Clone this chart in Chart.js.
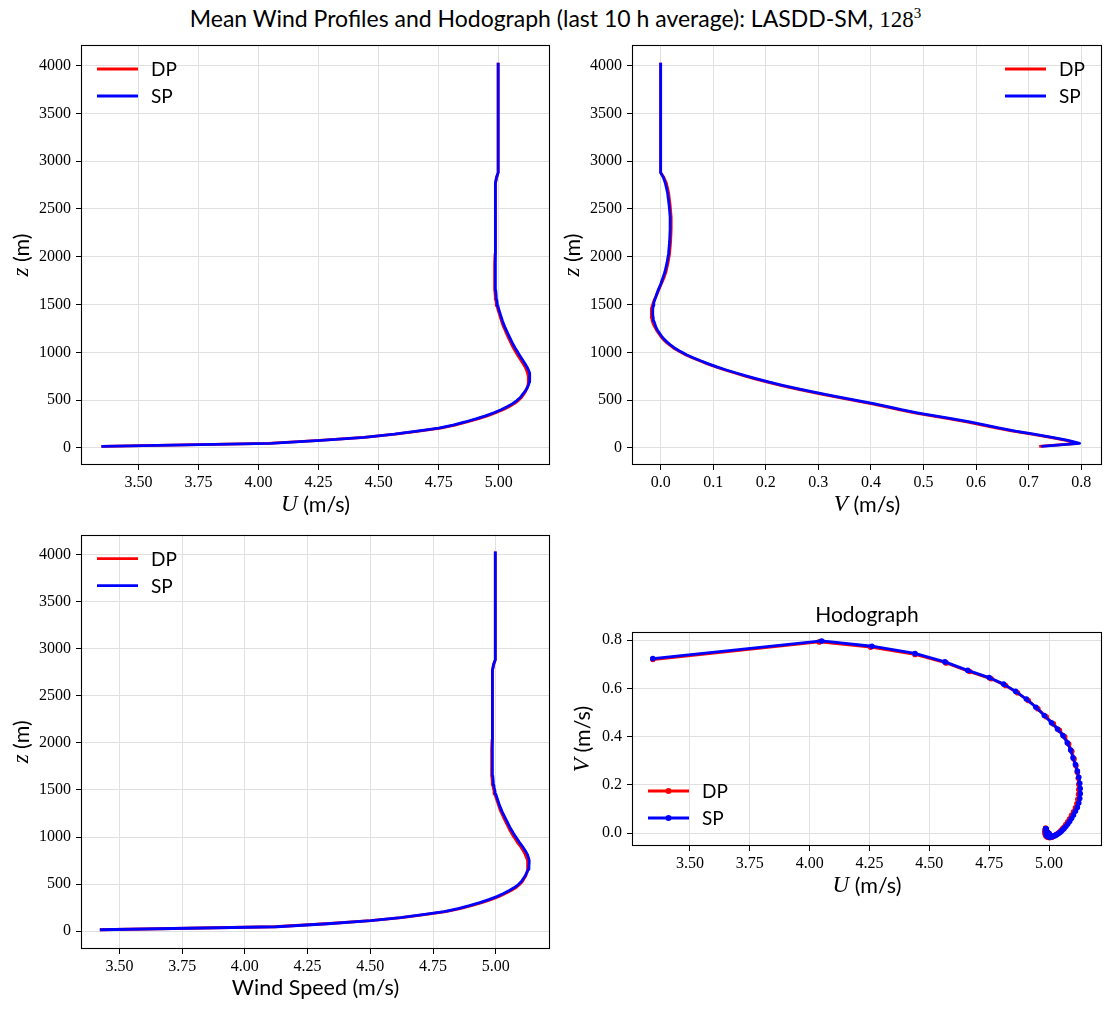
<!DOCTYPE html>
<html><head><meta charset="utf-8">
<script src="https://cdn.jsdelivr.net/npm/chart.js@4.4.1/dist/chart.umd.min.js"></script>
<style>
body{margin:0;background:#fff;}
#fig{position:relative;width:1111px;height:1011px;background:#fff;overflow:hidden;}
canvas{position:absolute;}
#sup{position:absolute;left:0;top:4px;width:1111px;text-align:center;font-family:Lato,'DejaVu Sans',sans-serif;font-size:23px;color:#000;white-space:nowrap;}
#sup .m{font-family:'Liberation Serif',serif;}
#sup .e{font-size:15px;position:relative;top:-9px;}
</style></head><body>
<div id="fig">
<div id="sup">Mean Wind Profiles and Hodograph (last 10 h average): LASDD-SM, <span class="m">128<span class="e">3</span></span></div>
<canvas id="c1" width="560" height="490" style="left:0;top:30px"></canvas>
<canvas id="c2" width="551" height="490" style="left:560px;top:30px"></canvas>
<canvas id="c3" width="560" height="491" style="left:0;top:520px"></canvas>
<canvas id="c4" width="551" height="320" style="left:560px;top:590px"></canvas>
</div>
<script>
// ---------------- data ----------------
const Z_LEVELS = [16,48,80,112,144,176,208,240,272,304,336,368,400,432,464,496,528,560,592,624,656,688,720,752,784,816,848,880,912,944,976,1008,1040,1072,1104,1136,1168,1200,1232,1264,1296,1328,1360,1392,1424,1456,1488,1520,1552,1584,1648,1712,1776,1840,1936,2032,2160,2288,2416,2544,2672,2768,2832,2880,3000,3500,4030];

const U_SP = [3.345,4.05,4.26,4.44,4.565,4.66,4.75,4.81,4.86,4.905,4.945,4.98,5.01,5.035,5.058,5.076,5.09,5.10,5.11,5.118,5.124,5.128,5.13,5.13,5.128,5.124,5.118,5.11,5.102,5.094,5.086,5.078,5.07,5.063,5.056,5.05,5.044,5.038,5.032,5.026,5.021,5.016,5.012,5.008,5.004,5.0,4.997,4.994,4.992,4.99,4.988,4.987,4.986,4.986,4.986,4.986,4.986,4.986,4.986,4.987,4.987,4.988,4.991,4.998,4.998,4.998,4.998];
const U_DP = [3.345,4.04,4.255,4.44,4.57,4.668,4.758,4.818,4.868,4.913,4.953,4.988,5.018,5.043,5.065,5.082,5.095,5.104,5.112,5.118,5.122,5.124,5.124,5.123,5.12,5.116,5.11,5.102,5.094,5.086,5.078,5.07,5.063,5.056,5.05,5.044,5.038,5.032,5.027,5.021,5.016,5.012,5.008,5.004,5.0,4.996,4.993,4.99,4.988,4.986,4.984,4.983,4.983,4.983,4.984,4.985,4.986,4.986,4.986,4.987,4.987,4.988,4.992,4.998,4.998,4.998,4.998];

const V_SP = [0.724,0.797,0.775,0.745,0.71,0.675,0.645,0.618,0.588,0.556,0.522,0.488,0.458,0.432,0.405,0.375,0.345,0.313,0.285,0.258,0.232,0.207,0.185,0.164,0.144,0.125,0.107,0.091,0.076,0.062,0.049,0.038,0.028,0.02,0.013,0.007,0.002,-0.002,-0.006,-0.009,-0.011,-0.013,-0.014,-0.015,-0.015,-0.015,-0.014,-0.013,-0.011,-0.009,-0.005,0.0,0.004,0.008,0.012,0.015,0.017,0.018,0.018,0.016,0.013,0.009,0.005,0.0,0.0,0.0,0.0];
const V_DP = [0.72,0.793,0.771,0.741,0.706,0.67,0.64,0.612,0.582,0.55,0.516,0.483,0.453,0.427,0.4,0.37,0.34,0.308,0.28,0.253,0.228,0.203,0.181,0.161,0.141,0.122,0.105,0.089,0.074,0.06,0.047,0.036,0.026,0.018,0.011,0.005,0.0,-0.004,-0.008,-0.011,-0.014,-0.016,-0.017,-0.018,-0.018,-0.017,-0.016,-0.014,-0.012,-0.009,-0.004,0.001,0.006,0.01,0.014,0.017,0.019,0.02,0.02,0.018,0.015,0.011,0.006,0.0,0.0,0.0,0.0];

const S_SP = [3.422,4.128,4.330,4.502,4.620,4.709,4.794,4.850,4.895,4.936,4.972,5.004,5.031,5.054,5.074,5.090,5.102,5.110,5.118,5.124,5.129,5.132,5.133,5.133,5.130,5.126,5.119,5.111,5.103,5.094,5.086,5.078,5.070,5.063,5.056,5.050,5.044,5.038,5.032,5.026,5.021,5.016,5.012,5.008,5.004,5.000,4.997,4.994,4.992,4.990,4.988,4.987,4.986,4.986,4.986,4.986,4.986,4.986,4.986,4.987,4.987,4.988,4.991,4.998,4.998,4.998,4.998];
const S_DP = [3.422,4.117,4.324,4.501,4.624,4.716,4.801,4.857,4.903,4.944,4.980,5.011,5.038,5.061,5.081,5.095,5.106,5.113,5.120,5.124,5.127,5.128,5.127,5.125,5.122,5.117,5.111,5.103,5.095,5.086,5.078,5.070,5.063,5.056,5.050,5.044,5.038,5.032,5.027,5.021,5.016,5.012,5.008,5.004,5.000,4.996,4.993,4.990,4.988,4.986,4.984,4.983,4.983,4.983,4.984,4.985,4.986,4.986,4.986,4.987,4.987,4.988,4.992,4.998,4.998,4.998,4.998];

const U_TICKS = [3.5,3.75,4.0,4.25,4.5,4.75,5.0];
const Z_TICKS = [0,500,1000,1500,2000,2500,3000,3500,4000];
const V_TICKS = [0,0.1,0.2,0.3,0.4,0.5,0.6,0.7,0.8];
const HV_TICKS = [0,0.2,0.4,0.6,0.8];
const SERIES = ['DP','SP'];
const COLORS = {DP:'#ff0000', SP:'#0000ff'};

// ---------------- helpers ----------------
const SANS = "Lato, 'DejaVu Sans', sans-serif";
const SERIF = "'Liberation Serif', serif";
const pts = (xs, ys) => xs.map((x, i) => ({x: x, y: ys[i]}));

function scale(axis, min, max, ticks, decimals, size) {
  return {
    type: 'linear', min: min, max: max,
    afterBuildTicks: s => { s.ticks = ticks.map(v => ({value: v})); },
    afterFit: s => { if (axis === 'x') s.height = size; else s.width = size; },
    ticks: {
      callback: v => Number(v).toFixed(decimals),
      font: {family: SERIF, size: 16}, color: '#000', padding: axis === 'x' ? 3 : 5,
      maxRotation: 0, autoSkip: false
    },
    grid: {color: '#e0e0e0', lineWidth: 1, tickColor: '#000', tickLength: 5, drawTicks: true},
    border: {display: false}
  };
}

function drawParts(ctx, parts, cx, cy, rot) {
  ctx.save();
  ctx.translate(cx, cy);
  if (rot) ctx.rotate(-Math.PI / 2);
  ctx.textBaseline = 'middle';
  ctx.fillStyle = '#000';
  let w = 0;
  parts.forEach(p => { ctx.font = p.f; w += ctx.measureText(p.t).width; });
  let x = -w / 2;
  parts.forEach(p => { ctx.font = p.f; ctx.textAlign = 'left'; ctx.fillText(p.t, x, 0); x += ctx.measureText(p.t).width; });
  ctx.restore();
}

const figPlugin = {
  id: 'fig',
  afterDraw(chart) {
    const o = chart.options.plugins.fig;
    if (!o) return;
    const ctx = chart.ctx, a = chart.chartArea;
    ctx.save();
    // full box
    ctx.strokeStyle = '#000'; ctx.lineWidth = 1.1;
    ctx.strokeRect(Math.round(a.left) + 0.5, Math.round(a.top) + 0.5, Math.round(a.right - a.left) - 1, Math.round(a.bottom - a.top) - 1);
    // legend
    const L = o.legend;
    chart.data.datasets.forEach((ds, i) => {
      const hx = L.anchor === 'right' ? a.right - L.dx : a.left + L.dx;
      const y = (L.fromBottom ? a.bottom - L.dy : a.top + L.dy) + i * 27;
      ctx.strokeStyle = ds.borderColor; ctx.lineWidth = 2.8; ctx.lineCap = 'butt';
      ctx.beginPath(); ctx.moveTo(hx, y); ctx.lineTo(hx + 41, y); ctx.stroke();
      if (L.marker) {
        ctx.fillStyle = ds.borderColor;
        ctx.beginPath(); ctx.arc(hx + 20.5, y, 3, 0, Math.PI * 2); ctx.fill();
      }
      ctx.fillStyle = '#000'; ctx.font = '19px ' + SANS; ctx.textBaseline = 'middle'; ctx.textAlign = 'left';
      ctx.fillText(ds.label, hx + 54, y + 1);
    });
    // axis titles
    drawParts(ctx, o.xTitle, (a.left + a.right) / 2, a.bottom + o.xOff, false);
    drawParts(ctx, o.yTitle, a.left - o.yOff, (a.top + a.bottom) / 2, true);
    if (o.title) drawParts(ctx, [{t: o.title, f: '21px ' + SANS}], (a.left + a.right) / 2, a.top - 17, false);
    ctx.restore();
  }
};

// SP drawn on top of DP (lower order = drawn last)
const ORDER = {DP: 1, SP: 0};

function profileDatasets(xsDP, xsSP) {
  const xs = {DP: xsDP, SP: xsSP};
  return SERIES.map(s => ({
    label: s, data: pts(xs[s], Z_LEVELS), showLine: true, order: ORDER[s],
    borderColor: COLORS[s], backgroundColor: COLORS[s], borderWidth: 2.8,
    borderJoinStyle: 'round', borderCapStyle: 'butt',
    pointRadius: 0, pointHoverRadius: 0, tension: 0
  }));
}

function makeChart(id, datasets, xs, ys, pad, fig) {
  return new Chart(document.getElementById(id), {
    type: 'scatter',
    data: {datasets: datasets},
    options: {
      responsive: false, animation: false, devicePixelRatio: 1,
      layout: {padding: pad},
      scales: {x: xs, y: ys},
      plugins: {legend: {display: false}, tooltip: {enabled: false}, fig: fig},
      events: []
    },
    plugins: [figPlugin]
  });
}

const TSANS = '21.5px ' + SANS, TMATH = 'italic 23px ' + SERIF;
const zTitle = [{t: 'z', f: TMATH}, {t: ' (m)', f: TSANS}];

// Panel 1: U profile
makeChart('c1', profileDatasets(U_DP, U_SP),
  scale('x', 3.26, 5.214, U_TICKS, 2, 55),
  scale('y', -178, 4215, Z_TICKS, 0, 81),
  {top: 15, right: 10, left: 0, bottom: 0},
  {legend: {anchor: 'left', dx: 16, dy: 24}, xOff: 40, yOff: 59,
   xTitle: [{t: 'U', f: TMATH}, {t: ' (m/s)', f: TSANS}], yTitle: zTitle});

// Panel 2: V profile
makeChart('c2', profileDatasets(V_DP, V_SP),
  scale('x', -0.0545, 0.8395, V_TICKS, 1, 55),
  scale('y', -178, 4215, Z_TICKS, 0, 72),
  {top: 15, right: 9, left: 0, bottom: 0},
  {legend: {anchor: 'right', dx: 97, dy: 24}, xOff: 40, yOff: 59,
   xTitle: [{t: 'V', f: TMATH}, {t: ' (m/s)', f: TSANS}], yTitle: zTitle});

// Panel 3: wind speed profile
makeChart('c3', profileDatasets(S_DP, S_SP),
  scale('x', 3.347, 5.216, U_TICKS, 2, 62),
  scale('y', -188, 4209, Z_TICKS, 0, 81),
  {top: 8, right: 10, left: 0, bottom: 0},
  {legend: {anchor: 'left', dx: 16, dy: 24}, xOff: 39, yOff: 59,
   xTitle: [{t: 'Wind Speed (m/s)', f: TSANS}], yTitle: zTitle});

// Panel 4: hodograph
const hodo = SERIES.map(s => ({
  label: s, data: pts(s === 'DP' ? U_DP : U_SP, s === 'DP' ? V_DP : V_SP), showLine: true, order: ORDER[s],
  borderColor: COLORS[s], backgroundColor: COLORS[s], borderWidth: 2.8,
  borderJoinStyle: 'round', borderCapStyle: 'butt',
  pointRadius: 2.8, pointBorderWidth: 0, pointBackgroundColor: COLORS[s], pointHoverRadius: 0, tension: 0
}));
makeChart('c4', hodo,
  scale('x', 3.258, 5.221, U_TICKS, 2, 64),
  scale('y', -0.053, 0.834, HV_TICKS, 1, 72),
  {top: 42, right: 9, left: 0, bottom: 0},
  {legend: {anchor: 'left', dx: 16, dy: 55, fromBottom: true, marker: true}, xOff: 40, yOff: 49,
   title: 'Hodograph',
   xTitle: [{t: 'U', f: TMATH}, {t: ' (m/s)', f: TSANS}],
   yTitle: [{t: 'V', f: TMATH}, {t: ' (m/s)', f: TSANS}]});
</script>
</body></html>
